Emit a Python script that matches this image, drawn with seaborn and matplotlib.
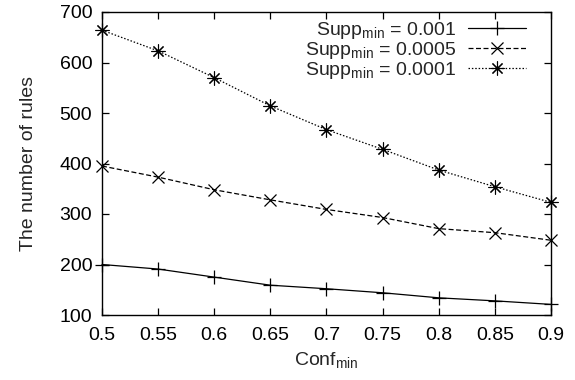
import matplotlib
matplotlib.use("Agg")
import matplotlib.pyplot as plt
import seaborn as sns
import numpy as np
import pandas as pd
from matplotlib.ticker import FormatStrFormatter, MultipleLocator

conf = [0.5, 0.55, 0.6, 0.65, 0.7, 0.75, 0.8, 0.85, 0.9]
supp_001 = [200, 191, 175, 159, 152, 144, 134, 128, 121]
supp_0005 = [395, 373, 348, 328, 309, 293, 271, 263, 248]
supp_0001 = [664, 623, 570, 514, 467, 428, 387, 354, 323]
labels = ["Supp$_{min}$ = 0.001", "Supp$_{min}$ = 0.0005", "Supp$_{min}$ = 0.0001"]

sns.set_style("ticks")
plt.rcParams['font.family'] = ['Liberation Sans', 'DejaVu Sans']
plt.rcParams['mathtext.default'] = 'regular'

fig = plt.figure(figsize=(5.75, 3.8), dpi=100)
ax = fig.add_axes([102/575, 65/380, (551-102)/575, (315-12)/380])

series = [supp_001, supp_0005, supp_0001]
styles = [dict(marker='+', linestyle='-', markersize=10, markeredgewidth=0.9),
          dict(marker='x', linestyle=(0, (4, 2)), markersize=8, markeredgewidth=0.9),
          dict(marker=(8, 2, 0), linestyle=(0, (1.2, 1.5)), markersize=10, markeredgewidth=0.8)]
for vals, lab, st in zip(series, labels, styles):
    sns.lineplot(x=conf, y=vals, ax=ax, color='black', linewidth=0.9,
                 markeredgecolor='black', markerfacecolor='black',
                 label=lab, clip_on=False, zorder=3, **st)

ax.set_xlim(0.5, 0.9)
ax.set_ylim(100, 700)
ax.xaxis.set_major_locator(MultipleLocator(0.05))
ax.yaxis.set_major_locator(MultipleLocator(100))
ax.xaxis.set_major_formatter(FormatStrFormatter('%g'))
ax.tick_params(direction='in', length=5, width=0.9, top=True, right=True,
               labelsize=14, colors='black')
ax.tick_params(axis='x', pad=9)
ax.tick_params(axis='y', pad=7)
for s in ax.spines.values():
    s.set_linewidth(1.0)
    s.set_color('black')
    s.set_visible(True)

ax.set_xlabel("Conf$_{min}$", fontsize=14, labelpad=4)
ax.set_ylabel("The number of rules", fontsize=14, labelpad=16)

leg = ax.legend(loc='upper right', frameon=False, markerfirst=False,
                fontsize=14, handlelength=3.0, handletextpad=0.6,
                labelspacing=-0.05, borderaxespad=0.0, borderpad=0.0,
                bbox_to_anchor=(0.944, 0.975))

fig.savefig("out.png", dpi=100)
